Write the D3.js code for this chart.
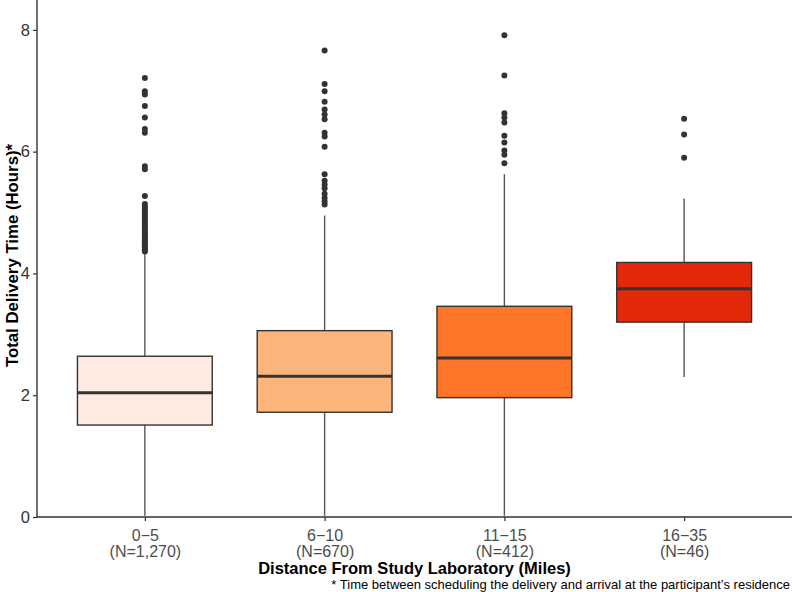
<!DOCTYPE html>
<html>
<head>
<meta charset="utf-8">
<script src="https://cdn.jsdelivr.net/npm/d3@7"></script>
<style>
  html, body { margin: 0; padding: 0; background: #fff; }
  svg { display: block; font-family: "Liberation Sans", Arial, sans-serif; }
</style>
</head>
<body>
<svg id="chart" width="792" height="592"></svg>
<script>
// ---- data ----
const categories = ["0\u22125", "6\u221210", "11\u221215", "16\u221235"];
const countLabels = ["(N=1,270)", "(N=670)", "(N=412)", "(N=46)"];
const q1 = [1.51, 1.72, 1.96, 3.20];
const medians = [2.04, 2.31, 2.61, 3.75];
const q3 = [2.64, 3.06, 3.46, 4.18];
const whiskerLow = [0.02, 0.02, 0.02, 2.30];
const whiskerHigh = [4.33, 4.95, 5.63, 5.23];
const outliers0 = [7.21, 6.99, 6.94, 6.75, 6.56, 6.37, 6.31, 5.76, 5.71, 5.27,
  5.14, 5.10, 5.06, 5.02, 4.98, 4.94, 4.90, 4.86, 4.82, 4.78, 4.75, 4.72, 4.69,
  4.66, 4.63, 4.60, 4.57, 4.54, 4.51, 4.48, 4.45, 4.42, 4.40, 4.38, 4.36];
const outliers1 = [7.66, 7.11, 6.99, 6.82, 6.69, 6.61, 6.53, 6.31, 6.25, 6.08,
  5.63, 5.52, 5.46, 5.40, 5.31, 5.24, 5.18, 5.13];
const outliers2 = [7.91, 7.25, 6.63, 6.56, 6.48, 6.26, 6.15, 6.02, 5.95, 5.81];
const outliers3 = [6.54, 6.28, 5.90];
const yTicks = [0, 2, 4, 6, 8];
const fillColors = ["#fdeae0", "#fdb57c", "#fe7529", "#e4290a"];

const xTitle = "Distance From Study Laboratory (Miles)";
const yTitle = "Total Delivery Time (Hours)*";
const caption = "* Time between scheduling the delivery and arrival at the participant\u2019s residence";

const outliers = [outliers0, outliers1, outliers2, outliers3];
const boxes = categories.map((c, i) => ({
  cat: c, n: countLabels[i], q1: q1[i], med: medians[i], q3: q3[i],
  lo: whiskerLow[i], hi: whiskerHigh[i], out: outliers[i], fill: fillColors[i]
}));

// ---- layout ----
const plotLeft = 37, plotRight = 792, plotTop = 0, plotBottom = 517;
const svg = d3.select("#chart");

const x = d3.scalePoint().domain(categories).range([plotLeft, plotRight]).padding(0.6);
const y = d3.scaleLinear().domain([0, 8.49]).range([plotBottom, plotTop]);
const boxW = x.step() * 0.75;

const g = svg.append("g");

// whiskers
g.selectAll("line.whisker").data(boxes).join("line")
  .attr("x1", d => x(d.cat)).attr("x2", d => x(d.cat))
  .attr("y1", d => y(d.lo)).attr("y2", d => y(d.hi))
  .attr("stroke", "#555").attr("stroke-width", 1.4);

// boxes
g.selectAll("rect.box").data(boxes).join("rect")
  .attr("x", d => x(d.cat) - boxW / 2).attr("width", boxW)
  .attr("y", d => y(d.q3)).attr("height", d => y(d.q1) - y(d.q3))
  .attr("fill", d => d.fill).attr("stroke", "#333").attr("stroke-width", 1.4);

// medians
g.selectAll("line.median").data(boxes).join("line")
  .attr("x1", d => x(d.cat) - boxW / 2).attr("x2", d => x(d.cat) + boxW / 2)
  .attr("y1", d => y(d.med)).attr("y2", d => y(d.med))
  .attr("stroke", "#333").attr("stroke-width", 3);

// outliers
boxes.forEach(b => {
  g.append("g").selectAll("circle").data(b.out).join("circle")
    .attr("cx", x(b.cat)).attr("cy", v => y(v)).attr("r", 3)
    .attr("fill", "#333");
});

// y axis
const yAxis = svg.append("g").attr("transform", `translate(${plotLeft},0)`)
  .call(d3.axisLeft(y).tickValues(yTicks).tickSize(4).tickPadding(3).tickFormat(d3.format("d")));
yAxis.select(".domain").attr("d", `M0,${plotTop}V${plotBottom}`).attr("stroke", "#333").attr("stroke-width", 1.4);
yAxis.selectAll(".tick line").attr("stroke", "#333").attr("stroke-width", 1.2);
yAxis.selectAll(".tick text").attr("font-size", 16.5).attr("fill", "#333")
  .attr("font-family", "Liberation Sans, Arial, sans-serif");

// x axis
const xAxis = svg.append("g").attr("transform", `translate(0,${plotBottom})`)
  .call(d3.axisBottom(x).tickSize(4).tickFormat(""));
xAxis.select(".domain").attr("d", `M${plotLeft},0H${plotRight}`).attr("stroke", "#333").attr("stroke-width", 1.4);
xAxis.selectAll(".tick line").attr("stroke", "#333").attr("stroke-width", 1.2);
xAxis.selectAll(".tick").each(function(d, i) {
  const t = d3.select(this).append("text")
    .attr("text-anchor", "middle").attr("font-size", 16).attr("fill", "#4d4d4d")
    .attr("font-family", "Liberation Sans, Arial, sans-serif");
  t.append("tspan").attr("x", 0).attr("y", 24).text(categories[i]);
  t.append("tspan").attr("x", 0).attr("y", 39.5).text(countLabels[i]);
});

// axis titles
svg.append("text").attr("x", (plotLeft + plotRight) / 2).attr("y", 573.5)
  .attr("text-anchor", "middle").attr("font-size", 16.5).attr("font-weight", "bold")
  .attr("fill", "#000").text(xTitle);
svg.append("text").attr("transform", `translate(18,${(plotTop + plotBottom) / 2 - 3}) rotate(-90)`)
  .attr("text-anchor", "middle").attr("font-size", 16.8).attr("font-weight", "bold")
  .attr("fill", "#000").text(yTitle);

// caption
svg.append("text").attr("x", 790).attr("y", 588.5)
  .attr("text-anchor", "end").attr("font-size", 13).attr("fill", "#000").text(caption);
</script>
</body>
</html>
